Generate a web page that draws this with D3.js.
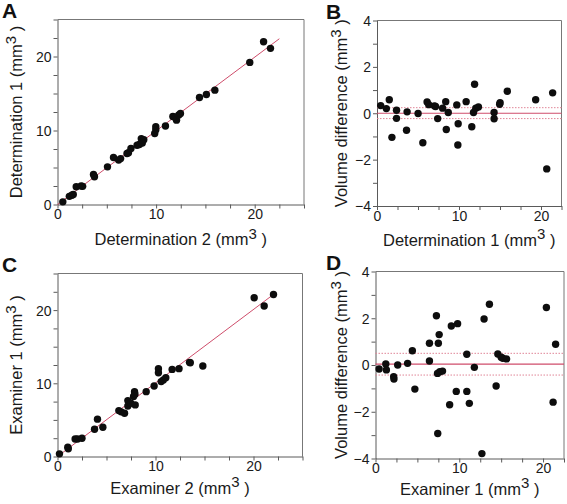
<!DOCTYPE html>
<html><head><meta charset="utf-8">
<script src="https://cdn.jsdelivr.net/npm/d3@7/dist/d3.min.js"></script>
<style>body{margin:0;background:#fff;} svg{display:block;font-family:"Liberation Sans",Arial,sans-serif;}</style>
</head><body>
<svg id="chart" width="567" height="504"></svg>
<script>
// ---- Data ----
// Panel A: Determination 2 (x) vs Determination 1 (y)
const A_x = [0.54,1.2,1.45,1.6,1.9,2.4,2.55,3.65,3.75,5.07,5.68,6.2,6.4,7.05,7.2,7.45,8.07,8.3,8.5,8.75,8.6,9.86,9.97,9.97,10.95,11.7,11.95,12.07,12.3,12.47,14.4,15.1,15.96,19.5,20.9,21.6];
const A_y = [0.36,1.1,1.26,1.35,2.4,2.5,2.45,4.05,3.74,5.09,6.35,6.0,6.2,6.9,7.0,7.57,8.0,8.1,8.9,8.75,8.3,9.6,10.5,10.1,10.6,11.9,11.8,11.4,12.1,12.3,14.46,14.86,15.45,19.2,22.0,21.1];
const A_fitX = [0, 22.5], A_fitY = [0, 22.4];

// Panel B: Determination 1 (x) vs volume difference (y)
const B_x = [0.45,1.14,1.5,1.82,2.38,2.38,3.6,3.67,5.01,5.59,6.11,6.31,7.0,7.14,7.4,8.0,8.38,8.45,8.69,9.73,9.9,9.86,10.87,11.56,11.77,11.9,12.05,12.37,14.28,14.28,14.96,15.01,15.89,19.35,20.7,21.42];
const B_y = [0.33,0.2,0.58,-1.04,0.13,-0.22,-0.73,0.06,-0.01,-1.27,0.49,0.37,0.32,0.29,-0.23,0.22,0.5,-0.7,0.03,0.36,-0.45,-1.37,0.5,-0.58,0.03,1.25,0.22,0.27,0.03,-0.24,0.39,0.45,0.95,0.58,-2.4,0.88];
const B_mean = 0, B_upper = 0.24, B_lower = -0.23;

// Panel C: Examiner 2 (x) vs Examiner 1 (y)
const C_x = [0.2,1.05,1.1,1.8,2.04,2.5,3.78,4.08,4.63,6.26,6.5,6.84,7.18,7.18,7.48,7.76,7.86,7.9,7.93,9.05,9.86,10.3,10.3,10.58,10.8,11.05,11.7,12.4,13.47,13.55,14.83,20.07,21.09,22.04];
const C_y = [0.36,1.27,1.05,2.4,2.4,2.5,3.73,5.1,4.0,6.27,6.1,5.9,7.64,6.9,7.27,8.2,8.86,8.5,7.05,8.86,9.64,12.0,11.45,10.23,10.45,10.77,11.9,12.0,12.86,12.8,12.36,21.68,20.55,22.14];
const C_fitX = [0, 22.2], C_fitY = [0, 22.3];

// Panel D: Examiner 1 (x) vs volume difference (y)
const D_x = [0.43,1.23,1.3,2.17,2.2,2.65,3.83,4.4,4.7,6.44,6.44,7.27,7.4,7.43,7.5,7.6,7.67,8.0,8.85,9.05,9.64,9.8,10.9,10.9,11.2,11.8,12.7,12.96,13.6,14.4,14.6,15.0,15.2,15.65,20.4,21.2,21.5];
const D_y = [-0.17,0.04,-0.21,-0.5,-0.6,0.0,0.07,0.61,-1.03,0.93,0.17,2.11,-0.36,-2.93,0.93,1.3,-0.29,-0.26,-1.7,1.67,-1.13,1.77,0.46,-1.13,-1.64,-0.1,-3.79,1.97,2.6,-0.9,0.47,0.33,0.29,0.26,2.46,-1.59,0.89];
const D_mean = 0.04, D_upper = 0.5, D_lower = -0.43;

// Ticks
const scatterTicks = d3.range(0, 25.01, 2.5);
const scatterLabels = [0, 10, 20];
const baXTicks = d3.range(0, 22.51, 2.5);
const baYTicks = d3.range(-4, 4.01, 1);
const baYLabels = [-4, -2, 0, 2, 4];

// ---- Drawing ----
const svg = d3.select("#chart");
const RED = "#cf4d6b", PINK = "#e08597", AXIS = "#5a5a5a";

function zip(xs, ys){ return xs.map((x,i)=>[x, ys[i]]); }

function titleText(g, x, y, main, rotate){
  const t = g.append("text").attr("x", x).attr("y", y)
    .attr("text-anchor","middle").attr("font-size",16.5).attr("fill","#1a1a1a");
  if (rotate) t.attr("transform", `rotate(-90,${x},${y})`);
  t.append("tspan").text(main + " (mm");
  t.append("tspan").attr("dy",-6.5).attr("font-size",15).text("3");
  t.append("tspan").attr("dy",6.5).text(" )");
}

function panel(o){
  const x = d3.scaleLinear().domain(o.xd).range([o.l, o.r]);
  const y = d3.scaleLinear().domain(o.yd).range([o.b, o.t]);
  const g = svg.append("g");
  g.append("path").attr("d", `M${o.l},${o.t}H${o.r}V${o.b}`).attr("fill","none").attr("stroke","#777").attr("stroke-width",1);
  const xa = d3.axisBottom(x).tickValues(o.xt).tickSize(4).tickSizeOuter(0)
    .tickFormat(d => o.xl.includes(d) ? d3.format("d")(d) : "");
  const ya = d3.axisLeft(y).tickValues(o.yt).tickSize(4).tickSizeOuter(0)
    .tickFormat(d => o.yl.includes(d) ? d3.format("d")(d) : "");
  const gx = g.append("g").attr("transform", `translate(0,${o.b})`).call(xa);
  const gy = g.append("g").attr("transform", `translate(${o.l},0)`).call(ya);
  [gx, gy].forEach(a => {
    a.select(".domain").attr("stroke", AXIS);
    a.selectAll(".tick line").attr("stroke", AXIS);
    a.selectAll(".tick text").attr("font-size", 14).attr("fill","#1a1a1a").attr("font-family","Liberation Sans, Arial, sans-serif");
  });
  gx.selectAll(".tick text").attr("dy","0.75em").attr("y",4);
  gy.selectAll(".tick text").attr("x",-6).attr("dy","0.35em");
  if (o.fit) {
    g.append("line").attr("x1", x(o.fit[0][0])).attr("y1", y(o.fit[1][0]))
      .attr("x2", x(o.fit[0][1])).attr("y2", y(o.fit[1][1]))
      .attr("stroke", RED).attr("stroke-width", 1);
  }
  if (o.ba) {
    const [m, u, lo] = o.ba;
    g.append("line").attr("x1", o.l).attr("x2", o.r).attr("y1", y(m)).attr("y2", y(m)).attr("stroke", RED).attr("stroke-width",1.2);
    [u, lo].forEach(v => g.append("line").attr("x1", o.l).attr("x2", o.r).attr("y1", y(v)).attr("y2", y(v))
      .attr("stroke", PINK).attr("stroke-width",1).attr("stroke-dasharray","1.5,1.5"));
  }
  g.selectAll("circle.pt").data(o.pts).join("circle").attr("class","pt")
    .attr("cx", d => x(d[0])).attr("cy", d => y(d[1])).attr("r", 3.7).attr("fill","#0d0d0d");
  titleText(g, (o.l + o.r)/2, o.b + o.xTitleOff, o.xTitle, false);
  titleText(g, o.yTitleX, (o.t + o.b)/2, o.yTitle, true);
  g.append("text").attr("x", o.letterX).attr("y", o.t - 2).attr("font-size", 21).attr("font-weight","bold")
    .attr("fill","#111").text(o.letter);
}

panel({letter:"A", letterX:2, l:57.5, r:304, t:19.5, b:204.5, xd:[0,25], yd:[0,25],
  xt:scatterTicks, xl:scatterLabels, yt:scatterTicks, yl:scatterLabels, xTitleOff:40.5,
  pts: zip(A_x, A_y), fit:[A_fitX, A_fitY], xTitle:"Determination 2", yTitle:"Determination 1", yTitleX:22});
panel({letter:"B", letterX:326, l:377, r:561.5, t:20.5, b:206, xd:[0,22.5], yd:[-4,4],
  xt:baXTicks, xl:scatterLabels, yt:baYTicks, yl:baYLabels, xTitleOff:39.5,
  pts: zip(B_x, B_y), ba:[B_mean, B_upper, B_lower], xTitle:"Determination 1", yTitle:"Volume difference", yTitleX:347});
panel({letter:"C", letterX:2, l:57.5, r:302.5, t:273.5, b:456.5, xd:[0,25], yd:[0,25],
  xt:scatterTicks, xl:scatterLabels, yt:scatterTicks, yl:scatterLabels, xTitleOff:37,
  pts: zip(C_x, C_y), fit:[C_fitX, C_fitY], xTitle:"Examiner 2", yTitle:"Examiner 1", yTitleX:22});
panel({letter:"D", letterX:326, l:375.5, r:564, t:271.5, b:458.5, xd:[0,22.5], yd:[-4,4],
  xt:baXTicks, xl:scatterLabels, yt:baYTicks, yl:baYLabels, xTitleOff:36,
  pts: zip(D_x, D_y), ba:[D_mean, D_upper, D_lower], xTitle:"Examiner 1", yTitle:"Volume difference", yTitleX:347});
</script>
</body></html>
